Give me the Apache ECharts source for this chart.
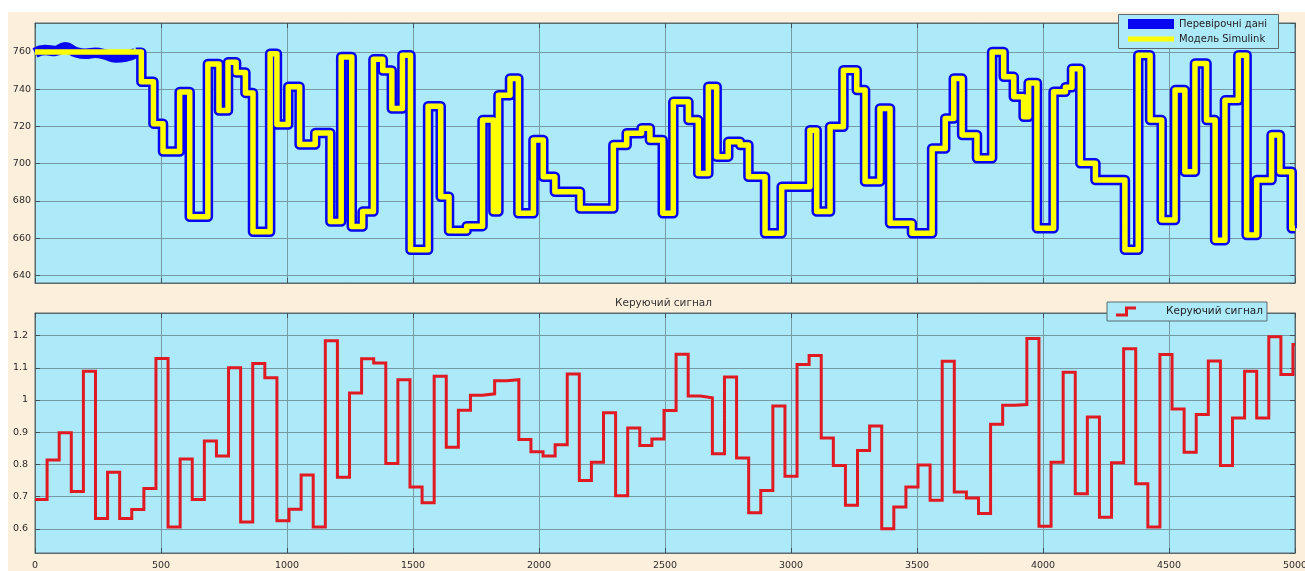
<!DOCTYPE html>
<html>
<head>
<meta charset="utf-8">
<title>Керуючий сигнал</title>
<script src="https://cdn.jsdelivr.net/npm/echarts@6/dist/echarts.min.js"></script>
<style>
  html, body { margin: 0; padding: 0; background: #fff; }
  #paper { position: absolute; left: 8px; top: 12px; right: 0; bottom: 0; background: #fcf0dd; }
  #chart { position: absolute; left: 0; top: 0; width: 1305px; height: 571px; }
</style>
</head>
<body>
<div id="paper"></div>
<div id="chart"></div>
<script>
// верхній графік: моменти перемикань і рівні (модель Simulink)
var yT = [0, 422, 470, 508, 574, 614, 686, 730, 766, 798,
  835, 865, 933, 960, 1005, 1050, 1112, 1172, 1215, 1257,
  1300, 1343, 1380, 1416, 1458, 1490, 1560, 1610, 1643, 1713,
  1776, 1819, 1839, 1885, 1918, 1978, 2017, 2063, 2163, 2295,
  2348, 2407, 2440, 2491, 2533, 2593, 2632, 2672, 2705, 2751,
  2798, 2831, 2897, 2963, 3075, 3102, 3155, 3208, 3261, 3294,
  3353, 3393, 3480, 3560, 3612, 3646, 3679, 3738, 3798, 3844,
  3884, 3923, 3943, 3976, 4042, 4089, 4115, 4148, 4208, 4325,
  4378, 4425, 4471, 4524, 4563, 4603, 4649, 4683, 4722, 4775,
  4808, 4848, 4907, 4940, 4987]
var yV = [760, 744, 721.5, 706.5, 738.5, 671.5, 753.5, 728.5, 754.5, 749,
  738, 663.5, 759, 721, 741.3, 710.3, 716.5, 669, 757.3, 666.3,
  674.3, 756, 750, 729.6, 758.2, 653.8, 730.8, 682.3, 664, 666.5,
  723.4, 674.3, 736.8, 745.7, 673.4, 712.7, 693, 685, 676, 710,
  716.3, 719, 712.7, 673.4, 733.2, 723.4, 694.8, 741.3, 703.8, 711.8,
  710, 693, 662.7, 687.7, 718, 674.3, 719.8, 750.2, 739.5, 690.4,
  729.6, 668, 662.7, 708.2, 724.3, 745.7, 715.4, 702.9, 760, 746.6,
  735.9, 725.2, 743.3, 665.4, 738.6, 741, 751, 700.2, 691.3, 653.8,
  758.2, 723.4, 669.8, 739.5, 695.7, 753.8, 723.4, 659, 734, 758.2,
  661.8, 691.3, 715.4, 695.7, 665.4]
// перевірочні дані на початку трохи "гуляють" біля 760
var blueStartT = [0, 40, 80, 120, 160, 200, 240, 280, 320, 360, 400]
var blueStartV = [759.5, 761, 760.5, 762.5, 760, 759, 759.5, 758.5, 757, 757.5, 759.5]

// нижній графік: керуючий сигнал
var uT = [0, 48, 96, 144, 192, 240, 288, 336, 384, 432,
  480, 528, 576, 624, 672, 720, 768, 816, 864, 912,
  960, 1008, 1056, 1104, 1152, 1200, 1248, 1296, 1344, 1392,
  1440, 1488, 1536, 1584, 1632, 1680, 1728, 1776, 1824, 1872,
  1920, 1968, 2016, 2064, 2112, 2160, 2208, 2256, 2304, 2352,
  2400, 2448, 2496, 2544, 2592, 2640, 2688, 2736, 2784, 2832,
  2880, 2928, 2976, 3024, 3072, 3120, 3168, 3216, 3264, 3312,
  3360, 3408, 3456, 3504, 3552, 3600, 3648, 3696, 3744, 3792,
  3840, 3888, 3936, 3984, 4032, 4080, 4128, 4176, 4224, 4272,
  4320, 4368, 4416, 4464, 4512, 4560, 4608, 4656, 4704, 4752,
  4800, 4848, 4896, 4944, 4992]
var uV = [0.691, 0.814, 0.898, 0.716, 1.089, 0.632, 0.776, 0.632, 0.660, 0.725,
  1.129, 0.606, 0.817, 0.691, 0.873, 0.826, 1.100, 0.621, 1.113, 1.069,
  0.625, 0.661, 0.767, 0.606, 1.184, 0.760, 1.022, 1.128, 1.115, 0.803,
  1.063, 0.730, 0.681, 1.074, 0.853, 0.968, 1.015, 1.019, 1.060, 1.063,
  0.877, 0.839, 0.826, 0.861, 1.081, 0.750, 0.807, 0.960, 0.703, 0.913,
  0.859, 0.879, 0.967, 1.142, 1.012, 1.007, 0.833, 1.071, 0.820, 0.650,
  0.719, 0.981, 0.763, 1.110, 1.138, 0.882, 0.797, 0.673, 0.843, 0.919,
  0.600, 0.668, 0.730, 0.798, 0.689, 1.120, 0.714, 0.696, 0.648, 0.925,
  0.984, 0.986, 1.191, 0.608, 0.807, 1.086, 0.709, 0.947, 0.636, 0.805,
  1.159, 0.740, 0.606, 1.141, 0.972, 0.838, 0.955, 1.121, 0.797, 0.944,
  1.089, 0.944, 1.196, 1.079, 1.172]

var tEnd = 5000
var topRange = [636, 775.5]
var botRange = [0.525, 1.27]

var plotBg = '#adeaf9'
var gridColor = '#779ba5'
var boxColor = '#5b6a70'
var blue = '#0808f0'
var yellow = '#ffff00'
var red = '#e01a22'
var font = 'DejaVu Sans'

function steps(ts, vs) {
    var d = ts.map(function (t, i) { return [t, vs[i]] })
    d.push([tEnd, vs[vs.length - 1]])
    return d
}

var yellowData = steps(yT, yV)
var blueStart = blueStartT.map(function (t, i) { return [t, blueStartV[i]] })
// сходинкова частина синьої лінії продовжує плавний початок
var blueData = blueStart.slice(-1).concat(yellowData.slice(1))
var redData = steps(uT, uV)

// підписи без розділювача тисяч
function plain(v) { return String(v) }

function xAxisFor(grid, pos, labels) {
    return {
        type: 'value', gridIndex: grid, position: pos, min: 0, max: tEnd, interval: 500,
        axisLine: { show: true, onZero: false, lineStyle: { color: boxColor, width: 1 } },
        axisTick: { show: true, inside: true, length: 5, lineStyle: { color: '#44525a' } },
        axisLabel: { show: labels, margin: 8, fontSize: 9.5, fontFamily: font, color: '#2a2a2a', formatter: plain },
        splitLine: { show: pos === 'bottom', lineStyle: { color: gridColor, width: 1 } }
    }
}

function yAxisFor(grid, pos, range, labels, margin) {
    return {
        type: 'value', gridIndex: grid, position: pos, min: range[0], max: range[1], splitNumber: 7,
        axisLine: { show: true, onZero: false, lineStyle: { color: boxColor, width: 1 } },
        axisTick: { show: true, inside: true, length: 5, lineStyle: { color: '#44525a' } },
        axisLabel: { show: labels, showMinLabel: false, showMaxLabel: false, margin: margin,
            fontSize: 9.5, fontFamily: font, color: '#2a2a2a', formatter: plain },
        splitLine: { show: pos === 'left', lineStyle: { color: gridColor, width: 1 } }
    }
}

var chart = echarts.init(document.getElementById('chart'), null, { renderer: 'canvas' })
chart.setOption({
    animation: false,
    title: {
        text: 'Керуючий сигнал', left: 615, top: 298, padding: 0,
        textStyle: { fontFamily: font, fontSize: 10.5, fontWeight: 'normal', color: '#333' }
    },
    grid: [
        { left: 35, top: 23, width: 1260, height: 260, show: true, backgroundColor: plotBg,
          borderColor: boxColor, borderWidth: 1, containLabel: false, outerBoundsMode: 'none' },
        { left: 35, top: 313, width: 1260, height: 240, show: true, backgroundColor: plotBg,
          borderColor: boxColor, borderWidth: 1, containLabel: false, outerBoundsMode: 'none' }
    ],
    xAxis: [
        xAxisFor(0, 'bottom', false),
        xAxisFor(0, 'top', false),
        xAxisFor(1, 'bottom', true),
        xAxisFor(1, 'top', false)
    ],
    yAxis: [
        yAxisFor(0, 'left', topRange, true, 4),
        yAxisFor(0, 'right', topRange, false, 4),
        yAxisFor(1, 'left', botRange, true, 7),
        yAxisFor(1, 'right', botRange, false, 7)
    ],
    graphic: [
        { type: 'rect', z: 10, shape: { x: 1118.5, y: 14.5, width: 160, height: 34 },
          style: { fill: plotBg, stroke: boxColor, lineWidth: 1 } }
    ],
    legend: [
        { left: 1128, top: 19, padding: 0, z: 20, selectedMode: false, itemWidth: 46, itemHeight: 10,
          icon: 'rect', data: [{ name: 'Перевірочні дані', itemStyle: { color: blue, borderWidth: 0 } }],
          textStyle: { fontFamily: font, fontSize: 10, color: '#222' } },
        { left: 1128, top: 34, padding: 0, z: 20, selectedMode: false, itemWidth: 46, itemHeight: 5,
          icon: 'rect', data: [{ name: 'Модель Simulink', itemStyle: { color: yellow, borderWidth: 0 } }],
          textStyle: { fontFamily: font, fontSize: 10, color: '#222' } },
        { left: 1107, top: 302, padding: [4, 4, 4, 9], z: 20, selectedMode: false,
          backgroundColor: plotBg, borderColor: boxColor, borderWidth: 1,
          itemWidth: 22, itemHeight: 10,
          icon: 'path://M0,7 H9 V0 H20 V3 H12 V10 H0 Z',
          data: [{ name: 'Керуючий сигнал', itemStyle: { color: red, borderWidth: 0 } }],
          textStyle: { fontFamily: font, fontSize: 10.5, color: '#222', padding: [0, 0, 0, 24] } }
    ],
    series: [
        {
            // початкова ділянка перевірочних даних — плавна, без сходинок
            name: 'Перевірочні дані', type: 'line', smooth: true, xAxisIndex: 0, yAxisIndex: 0,
            data: blueStart, symbol: 'none', z: 2,
            itemStyle: { color: blue },
            lineStyle: { color: blue, width: 10.5, join: 'round', cap: 'butt' }
        },
        {
            name: 'Перевірочні дані', type: 'line', step: 'end', xAxisIndex: 0, yAxisIndex: 0,
            data: blueData, symbol: 'none', z: 2,
            itemStyle: { color: blue },
            lineStyle: { color: blue, width: 10.5, join: 'round', cap: 'butt' }
        },
        {
            name: 'Модель Simulink', type: 'line', step: 'end', xAxisIndex: 0, yAxisIndex: 0,
            data: yellowData, symbol: 'none', z: 3,
            itemStyle: { color: yellow },
            lineStyle: { color: yellow, width: 5.5, join: 'round', cap: 'butt' }
        },
        {
            name: 'Керуючий сигнал', type: 'line', step: 'end', xAxisIndex: 2, yAxisIndex: 2,
            data: redData, symbol: 'none', z: 2,
            itemStyle: { color: red },
            lineStyle: { color: red, width: 3, join: 'miter' }
        }
    ]
})
</script>
</body>
</html>
